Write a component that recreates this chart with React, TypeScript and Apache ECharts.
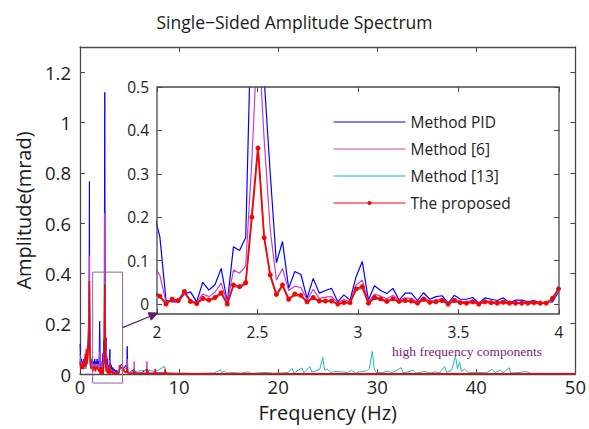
import React, { useEffect, useRef } from 'react';
import * as echarts from 'echarts';

// ---------- inset (zoomed) data: frequency bins 1.98 .. 4.00 Hz ----------
const insetFreq = [
  1.9836, 2.0142, 2.0447, 2.0752, 2.1057, 2.1362, 2.1667, 2.1973, 2.2278, 2.2583,
  2.2888, 2.3193, 2.3499, 2.3804, 2.4109, 2.4414, 2.4719, 2.5024, 2.533, 2.5635,
  2.594, 2.6245, 2.655, 2.6855, 2.7161, 2.7466, 2.7771, 2.8076, 2.8381, 2.8687,
  2.8992, 2.9297, 2.9602, 2.9907, 3.0212, 3.0518, 3.0823, 3.1128, 3.1433, 3.1738,
  3.2043, 3.2349, 3.2654, 3.2959, 3.3264, 3.3569, 3.3875, 3.418, 3.4485, 3.479,
  3.5095, 3.54, 3.5706, 3.6011, 3.6316, 3.6621, 3.6926, 3.7231, 3.7537, 3.7842,
  3.8147, 3.8452, 3.8757, 3.9063, 3.9368, 3.9673, 3.9978,
];
const blueInset = [
  0.21, 0.155, 0.009, 0.005, 0.005, 0.023, 0.028, 0.005, 0.05, 0.032,
  0.045, 0.082, 0.004, 0.132, 0.123, 0.153, 0.72, 1.12, 0.52, 0.3,
  0.095, 0.144, 0.036, 0.075, 0.068, 0.013, 0.059, 0.025, 0.031, 0.036,
  0.005, 0.021, 0.009, 0.063, 0.098, 0.009, 0.042, 0.031, 0.024, 0.036,
  0.009, 0.025, 0.025, 0.008, 0.026, 0.011, 0.017, 0.019, 0.002, 0.02,
  0.011, 0.011, 0.015, 0.002, 0.014, 0.011, 0.008, 0.014, 0.003, 0.009,
  0.009, 0.005, 0.008, 0.002, 0.005, 0.005, 0.028,
];
const magInset = [
  0.088, 0.066, 0.005, 0.009, 0.007, 0.028, 0.009, 0.003, 0.023, 0.017,
  0.027, 0.048, 0.003, 0.078, 0.071, 0.088, 0.33, 0.64, 0.38, 0.17,
  0.055, 0.082, 0.031, 0.041, 0.038, 0.009, 0.034, 0.013, 0.016, 0.017,
  0.003, 0.01, 0.005, 0.044, 0.055, 0.005, 0.023, 0.018, 0.012, 0.02,
  0.009, 0.014, 0.013, 0.004, 0.016, 0.006, 0.009, 0.012, 0.001, 0.012,
  0.006, 0.005, 0.009, 0.001, 0.008, 0.006, 0.004, 0.008, 0.002, 0.004,
  0.004, 0.003, 0.004, 0.002, 0.003, 0.01, 0.03,
];
const cyanInset = [
  0.03, 0.02, 0.003, 0.008, 0.009, 0.024, 0.008, 0.002, 0.01, 0.008,
  0.012, 0.022, 0.002, 0.04, 0.037, 0.045, 0.21, 0.366, 0.16, 0.062,
  0.018, 0.04, 0.009, 0.02, 0.017, 0.003, 0.013, 0.005, 0.006, 0.005,
  0.001, 0.002, 0.002, 0.031, 0.036, 0.001, 0.012, 0.009, 0.004, 0.01,
  0.004, 0.006, 0.005, 0.001, 0.008, 0.003, 0.004, 0.006, 0.0, 0.006,
  0.002, 0.002, 0.004, 0.0, 0.004, 0.002, 0.002, 0.003, 0.001, 0.002,
  0.002, 0.002, 0.002, 0.001, 0.002, 0.01, 0.032,
];
const redInset = [
  0.025, 0.018, 0.0, 0.011, 0.008, 0.029, 0.006, 0.001, 0.013, 0.009,
  0.015, 0.026, 0.0, 0.044, 0.04, 0.049, 0.2, 0.359, 0.153, 0.067,
  0.022, 0.044, 0.011, 0.023, 0.02, 0.005, 0.015, 0.007, 0.007, 0.007,
  0.0, 0.003, 0.003, 0.035, 0.04, 0.002, 0.015, 0.012, 0.006, 0.012,
  0.006, 0.008, 0.007, 0.002, 0.011, 0.004, 0.005, 0.008, 0.0, 0.008,
  0.003, 0.002, 0.005, 0.0, 0.005, 0.003, 0.002, 0.004, 0.002, 0.002,
  0.002, 0.002, 0.003, 0.002, 0.002, 0.013, 0.035,
];

// ---------- main plot: low frequencies 0 .. 1.92 Hz ----------
const lowFreq = [
  0.0, 0.05, 0.1, 0.16, 0.22, 0.28, 0.34, 0.4, 0.46, 0.52, 0.58, 0.64, 0.7, 0.76,
  0.82, 0.88, 0.92, 0.95, 0.98, 1.02, 1.07, 1.13, 1.19, 1.25, 1.31, 1.37, 1.43,
  1.49, 1.55, 1.61, 1.67, 1.73, 1.79, 1.85, 1.92,
];
const blueLow = [
  0.12, 0.07, 0.05, 0.06, 0.04, 0.05, 0.03, 0.06, 0.04, 0.05, 0.03, 0.06, 0.05, 0.09,
  0.15, 0.24, 0.4, 0.765, 0.3, 0.12, 0.07, 0.05, 0.04, 0.06, 0.03, 0.05, 0.04,
  0.06, 0.03, 0.05, 0.04, 0.06, 0.04, 0.05, 0.03,
];
const magLow = [
  0.08, 0.05, 0.04, 0.04, 0.03, 0.04, 0.02, 0.04, 0.03, 0.04, 0.02, 0.04, 0.04, 0.06,
  0.1, 0.16, 0.26, 0.47, 0.2, 0.08, 0.05, 0.04, 0.03, 0.04, 0.02, 0.04, 0.03,
  0.04, 0.02, 0.04, 0.03, 0.04, 0.03, 0.04, 0.02,
];
const cyanLow = [
  0.06, 0.03, 0.03, 0.03, 0.02, 0.03, 0.02, 0.03, 0.02, 0.03, 0.02, 0.03, 0.03, 0.05,
  0.08, 0.12, 0.2, 0.36, 0.14, 0.05, 0.03, 0.03, 0.02, 0.03, 0.02, 0.03, 0.02,
  0.03, 0.02, 0.03, 0.02, 0.03, 0.02, 0.03, 0.02,
];
const redLow = [
  0.05, 0.03, 0.02, 0.04, 0.02, 0.03, 0.02, 0.05, 0.03, 0.08, 0.03, 0.1, 0.04, 0.06,
  0.09, 0.13, 0.21, 0.37, 0.13, 0.05, 0.03, 0.02, 0.02, 0.03, 0.01, 0.03, 0.02,
  0.03, 0.01, 0.02, 0.02, 0.03, 0.02, 0.02, 0.01,
];

// ---------- main plot: higher frequencies 4 .. 50 Hz ----------
const blueHighF = [4.03, 4.2, 4.4, 4.6, 4.72, 4.77, 4.82, 5.0, 5.47, 5.6, 6.2, 6.75, 7.0, 7.6, 8.6, 10, 50];
const blueHighV = [0.03, 0.04, 0.02, 0.035, 0.02, 0.11, 0.01, 0.005, 0.02, 0.003, 0.004, 0.02, 0.002, 0.004, 0.004, 0.002, 0.002];
const magHighF = [4.03, 4.3, 4.5, 4.72, 4.77, 4.82, 5.42, 5.47, 5.52, 6.7, 6.75, 6.8, 7.6, 8.6, 10, 50];
const magHighV = [0.02, 0.025, 0.01, 0.01, 0.06, 0.005, 0.004, 0.05, 0.004, 0.004, 0.05, 0.004, 0.003, 0.003, 0.002, 0.002];
const cyanHighF = [
  4.03, 4.3, 4.77, 4.85, 5.47, 6.75, 7.6, 8.55, 8.65, 9.5, 10.5, 11.5, 12.5, 13.5, 14.0,
  14.15, 14.3, 14.6, 14.8, 15.5, 16.2, 17.0, 17.3, 18.1, 18.8, 19.5, 20.3, 21.0, 21.4,
  21.6, 22.4, 22.6, 23.2, 23.4, 23.8, 24.2, 24.5, 24.7, 24.95, 25.3, 25.7, 26.5, 27.0,
  27.4, 27.8, 28.4, 28.9, 29.2, 29.5, 29.7, 29.9, 30.5, 31.1, 31.5, 32.4, 32.6, 33.1,
  33.6, 33.9, 34.8, 35.3, 35.8, 36.3, 36.8, 37.0, 37.5, 37.9, 38.1, 38.3, 38.5, 38.8,
  39.2, 40.2, 41.0, 41.6, 41.9, 42.4, 42.7, 43.3, 43.5, 44.3, 45.0, 45.5, 47, 50,
];
const cyanHighV = [
  0.02, 0.01, 0.03, 0.005, 0.01, 0.015, 0.01, 0.03, 0.003, 0.002, 0.004, 0.002, 0.003, 0.004, 0.012,
  0.018, 0.006, 0.012, 0.004, 0.006, 0.003, 0.008, 0.002, 0.005, 0.006, 0.003, 0.004, 0.006, 0.022,
  0.004, 0.024, 0.005, 0.03, 0.008, 0.012, 0.02, 0.065, 0.015, 0.02, 0.006, 0.01, 0.008, 0.005,
  0.015, 0.004, 0.01, 0.012, 0.022, 0.09, 0.02, 0.006, 0.005, 0.012, 0.004, 0.025, 0.005, 0.008,
  0.015, 0.004, 0.01, 0.004, 0.008, 0.005, 0.03, 0.006, 0.015, 0.072, 0.02, 0.048, 0.01, 0.02,
  0.005, 0.006, 0.005, 0.018, 0.006, 0.015, 0.005, 0.025, 0.004, 0.006, 0.01, 0.002, 0.002, 0.001,
];
const redHighF = [4.03, 4.3, 4.5, 4.72, 4.77, 4.82, 5.42, 5.47, 5.52, 6.7, 6.75, 6.8, 7.55, 7.6, 7.65, 8.55, 8.6, 8.65, 9.5, 50];
const redHighV = [0.03, 0.02, 0.008, 0.006, 0.03, 0.004, 0.003, 0.015, 0.002, 0.003, 0.02, 0.002, 0.002, 0.02, 0.002, 0.002, 0.02, 0.002, 0.001, 0.001];

const seriesNames = ['Method PID', 'Method [6]', 'Method [13]', 'The proposed'];
const mainXTicks = { min: 0, max: 50, interval: 10 };
const mainYTicks = { min: 0, max: 1.3, interval: 0.2 };
const insetXTicks = { min: 2, max: 4, interval: 0.5 };
const insetYTicks = { min: 0, max: 0.5, interval: 0.1 };

const COLORS = ['#0000ff', '#c83ccc', '#1cb8b8', '#ff0000'];
const FONT = 'Open Sans';
const AXIS = '#4a4a4a';

export default function App() {
  const ref = useRef<HTMLDivElement>(null);
  useEffect(() => {
    const chart = echarts.init(ref.current!, null, { renderer: 'svg' });
    const pairs = (f: number[], v: number[]) => f.map((x, i) => [x, v[i]]);
    const mainData = [
      [...pairs(lowFreq, blueLow), ...pairs(insetFreq, blueInset), ...pairs(blueHighF, blueHighV)],
      [...pairs(lowFreq, magLow), ...pairs(insetFreq, magInset), ...pairs(magHighF, magHighV)],
      [...pairs(lowFreq, cyanLow), ...pairs(insetFreq, cyanInset), ...pairs(cyanHighF, cyanHighV)],
      [...pairs(lowFreq, redLow), ...pairs(insetFreq, redInset), ...pairs(redHighF, redHighV)],
    ];
    const insetData = [
      pairs(insetFreq, blueInset),
      pairs(insetFreq, magInset),
      pairs(insetFreq, cyanInset),
      pairs(insetFreq, redInset),
    ];
    const tickLine = { lineStyle: { color: AXIS, width: 1 } };
    const mainFmt = (v: number) =>
      Math.abs(v / 0.2 - Math.round(v / 0.2)) < 1e-6 ? String(+v.toFixed(1)) : '';

    const mainSeries = mainData.map((d, i) => ({
      type: 'line',
      name: '_main' + i,
      xAxisIndex: 0,
      yAxisIndex: 0,
      data: d,
      symbol: 'none',
      lineStyle: { color: COLORS[i], width: i === 3 ? 1.5 : 1 },
      itemStyle: { color: COLORS[i] },
      z: 2 + i,
    }));
    const insetSeries = insetData.map((d, i) => ({
      type: 'line',
      name: seriesNames[i],
      xAxisIndex: 2,
      yAxisIndex: 2,
      data: d,
      symbol: i === 3 ? 'circle' : 'none',
      symbolSize: 5,
      showAllSymbol: true,
      clip: true,
      lineStyle: { color: COLORS[i], width: i === 3 ? 1.8 : 1.2 },
      itemStyle: { color: COLORS[i] },
      z: 10 + i,
    }));

    chart.setOption({
      animation: false,
      backgroundColor: '#ffffff',
      title: {
        text: 'Single\u2212Sided Amplitude Spectrum',
        left: 'center',
        top: 8,
        textStyle: { fontFamily: FONT, fontSize: 17.5, fontWeight: 'normal', color: '#1a1a1a' },
      },
      legend: {
        data: seriesNames.map((n, i) =>
          i === 3 ? { name: n } : { name: n, itemStyle: { opacity: 0 } }
        ),
        orient: 'vertical',
        left: 333,
        top: 113,
        padding: 0,
        itemWidth: 72,
        itemHeight: 5,
        itemGap: 9,
        z: 40,
        selectedMode: false,
        lineStyle: { width: 1 },
        textStyle: { fontFamily: FONT, fontSize: 15.5, color: '#222', lineHeight: 18 },
      },
      grid: [
        { left: 80, right: 13, top: 47, bottom: 55 },
        { left: 157, right: 30, top: 87, bottom: 125, show: true, backgroundColor: '#ffffff', borderWidth: 0, z: 1 },
      ],
      xAxis: [
        {
          type: 'value', gridIndex: 0, position: 'bottom', ...mainXTicks,
          axisLine: { show: true, onZero: false, lineStyle: { color: AXIS, width: 1.3 } },
          axisTick: { show: true, inside: true, length: 5, ...tickLine },
          axisLabel: { fontFamily: FONT, fontSize: 18.5, color: '#222', margin: 3 },
          splitLine: { show: false },
          name: 'Frequency (Hz)', nameLocation: 'middle', nameGap: 28,
          nameTextStyle: { fontFamily: FONT, fontSize: 20, color: '#1a1a1a' },
        },
        {
          type: 'value', gridIndex: 0, position: 'top', ...mainXTicks,
          axisLine: { show: true, onZero: false, lineStyle: { color: AXIS, width: 1.3 } },
          axisTick: { show: true, inside: true, length: 5, ...tickLine },
          axisLabel: { show: false }, splitLine: { show: false },
        },
        {
          type: 'value', gridIndex: 1, position: 'bottom', offset: 10, ...insetXTicks,
          axisLine: { show: false, onZero: false },
          axisTick: { show: true, inside: true, length: 5, ...tickLine },
          axisLabel: { fontFamily: FONT, fontSize: 15.5, color: '#222', margin: 10 },
          splitLine: { show: false }, z: 20,
        },
        {
          type: 'value', gridIndex: 1, position: 'top', ...insetXTicks,
          axisLine: { show: false, onZero: false },
          axisTick: { show: true, inside: true, length: 5, ...tickLine },
          axisLabel: { show: false }, splitLine: { show: false }, z: 20,
        },
      ],
      yAxis: [
        {
          type: 'value', gridIndex: 0, position: 'left', ...mainYTicks,
          axisLine: { show: true, onZero: false, lineStyle: { color: AXIS, width: 1.3 } },
          axisTick: { show: true, inside: true, length: 5, ...tickLine },
          axisLabel: { fontFamily: FONT, fontSize: 18.5, color: '#222', margin: 9, formatter: mainFmt },
          splitLine: { show: false },
          name: 'Amplitude(mrad)', nameLocation: 'middle', nameGap: 47, nameRotate: 90,
          nameTextStyle: { fontFamily: FONT, fontSize: 20, color: '#1a1a1a' },
        },
        {
          type: 'value', gridIndex: 0, position: 'right', ...mainYTicks,
          axisLine: { show: true, onZero: false, lineStyle: { color: AXIS, width: 1.3 } },
          axisTick: { show: true, inside: true, length: 5, ...tickLine },
          axisLabel: { show: false }, splitLine: { show: false },
        },
        {
          type: 'value', gridIndex: 1, position: 'left', ...insetYTicks,
          axisLine: { show: false, onZero: false },
          axisTick: { show: true, inside: true, length: 5, ...tickLine },
          axisLabel: { fontFamily: FONT, fontSize: 15.5, color: '#222', margin: 8 },
          splitLine: { show: false }, z: 20,
        },
        {
          type: 'value', gridIndex: 1, position: 'right', ...insetYTicks,
          axisLine: { show: false, onZero: false },
          axisTick: { show: true, inside: true, length: 5, ...tickLine },
          axisLabel: { show: false }, splitLine: { show: false }, z: 20,
        },
      ],
      series: [...mainSeries, ...insetSeries],
    });

    const px = (g: number, x: number, y: number) =>
      chart.convertToPixel({ gridIndex: g } as any, [x, y]) as number[];
    const a = px(0, 1.28, 0.405);
    const b = px(0, 4.3, -0.036);
    const c = px(1, 2, 0.5);
    const d = px(1, 4, 0);
    const frameBottom = d[1] + 10;
    const start = [b[0], (a[1] + b[1]) / 2];
    const end = [c[0] + 1, frameBottom - 1];
    const dx = end[0] - start[0];
    const dy = end[1] - start[1];
    const len = Math.sqrt(dx * dx + dy * dy);
    const ux = dx / len;
    const uy = dy / len;
    const hl = 9;
    const hw = 4;
    const base = [end[0] - ux * hl, end[1] - uy * hl];
    const t = px(0, 31.5, 0.0875);

    chart.setOption({
      graphic: [
        {
          type: 'rect', z: 30,
          shape: { x: a[0], y: a[1], width: b[0] - a[0], height: b[1] - a[1] },
          style: { fill: 'none', stroke: '#93609f', lineWidth: 1 },
        },
        {
          type: 'rect', z: 30,
          shape: { x: c[0], y: c[1], width: d[0] - c[0], height: frameBottom - c[1] },
          style: { fill: 'none', stroke: AXIS, lineWidth: 1.3 },
        },
        {
          type: 'line', z: 30,
          shape: { x1: start[0], y1: start[1], x2: base[0], y2: base[1] },
          style: { stroke: '#5e1e70', lineWidth: 1.2 },
        },
        {
          type: 'polygon', z: 30,
          shape: {
            points: [
              end,
              [base[0] - uy * hw, base[1] + ux * hw],
              [base[0] + uy * hw, base[1] - ux * hw],
            ],
          },
          style: { fill: '#5e1e70', stroke: '#5e1e70' },
        },
        {
          type: 'text', z: 30, x: t[0], y: t[1],
          style: {
            text: 'high frequency components',
            fill: '#7b1a7b',
            font: '13.5px "Liberation Serif", "Times New Roman", serif',
            textAlign: 'left',
            textVerticalAlign: 'middle',
          },
        },
      ],
    });

    return () => chart.dispose();
  }, []);
  return (
    <div
      ref={ref}
      style={{ position: 'fixed', left: 0, top: 0, width: 589, height: 429 }}
    />
  );
}
